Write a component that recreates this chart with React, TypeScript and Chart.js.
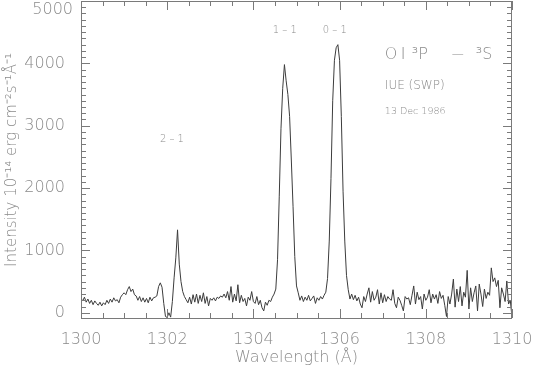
import React, { useEffect, useRef } from 'react';
import { Chart, registerables } from 'chart.js';

Chart.register(...registerables);

// Sampling grid of the spectrum (Å)
const wavelengthStart = 1300;
const wavelengthStep = 0.04;

// Intensity (10^-14 erg cm^-2 s^-1 Å^-1), one value per sample from 1300.00 to 1310.00 Å
const intensity1300: number[] = [230, 190, 250, 170, 220, 150, 200, 130, 190, 150, 120, 170, 110, 160, 130, 200, 150, 220, 170, 240, 190, 210, 160, 250, 290];
const intensity1301: number[] = [320, 290, 370, 420, 340, 380, 290, 270, 200, 260, 180, 240, 170, 230, 160, 250, 190, 240, 250, 270, 420, 480, 410, 150, -60];
const intensity1302: number[] = [-75, 0, -70, 180, 560, 880, 1330, 780, 500, 340, 260, 210, 160, 250, 140, 290, 170, 300, 150, 280, 180, 320, 150, 260, 110];
const intensity1303: number[] = [230, 200, 240, 190, 250, 230, 270, 250, 300, 240, 340, 200, 420, 170, 300, 190, 450, 160, 280, 180, 230, 110, 250, 200, 340];
const intensity1304: number[] = [180, 150, 260, 130, 200, 80, 30, 170, 120, 200, 180, 250, 300, 380, 850, 1870, 2950, 3600, 3980, 3720, 3500, 3150, 2450, 1700, 900];
const intensity1305: number[] = [430, 320, 200, 270, 180, 250, 200, 280, 190, 230, 270, 150, 240, 200, 260, 220, 280, 330, 550, 1150, 2150, 3400, 4050, 4250, 4300];
const intensity1306: number[] = [4050, 3150, 1950, 1150, 600, 370, 220, 300, 210, 280, 190, 250, 140, 80, 260, 180, 300, 400, 170, 340, 200, 250, 370, 140, 320];
const intensity1307: number[] = [160, 290, 180, 260, 220, 200, 370, 150, 80, 250, 200, 120, 30, 260, 220, 240, 130, 280, 430, 140, 330, 210, 260, 60, 300];
const intensity1308: number[] = [200, 250, 370, 160, 300, 220, 290, 150, 340, 230, 280, 120, -60, 260, 140, 300, 540, 90, 380, 180, 420, 110, 330, 250, 680];
const intensity1309: number[] = [60, 400, 180, 320, 430, 30, 460, 300, 100, 380, 230, 330, 280, 720, 500, 560, 420, 520, 80, 400, 300, 180, 510, 140, 200, -70];

const intensity: number[] = [
  ...intensity1300, ...intensity1301, ...intensity1302, ...intensity1303, ...intensity1304,
  ...intensity1305, ...intensity1306, ...intensity1307, ...intensity1308, ...intensity1309,
];
const wavelengths: number[] = intensity.map((_, i) => +(wavelengthStart + i * wavelengthStep).toFixed(2));

// Axis ticks
const xTickLabels: number[] = [1300, 1302, 1304, 1306, 1308, 1310];
const yTickLabels: number[] = [0, 1000, 2000, 3000, 4000, 5000];
const xRange: [number, number] = [1300, 1310];
const yRange: [number, number] = [-100, 5000];

// Text labels on the plot
const lineLabels: string[] = ['2 – 1', '1 – 1', '0 – 1'];
const lineLabelWavelengths: number[] = [1302.11, 1304.73, 1305.89];
const lineLabelIntensities: number[] = [2780, 4530, 4530];
const titleParts: string[] = ['O', 'I', '³P', '—', '³S'];
const instrumentText = 'IUE (SWP)';
const dateText = '13 Dec 1986';

const FONT = "'DejaVu Sans', sans-serif";
const TEXT_COLOR = '#8a8a8a';
const AXIS_COLOR = '#7a7a7a';
const LINE_COLOR = '#3c3c3c';

const framePlugin = {
  id: 'frameTicks',
  afterDraw(chart: any) {
    const { ctx, chartArea: a, scales } = chart;
    const xs = scales.x;
    const ys = scales.y;
    const L = Math.round(a.left);
    const R = Math.round(a.right) - 1;
    const T = Math.round(a.top);
    const B = Math.round(a.bottom) - 1;
    ctx.save();
    ctx.fillStyle = AXIS_COLOR;
    // frame
    ctx.fillRect(L, T, R - L + 1, 1);
    ctx.fillRect(L, B, R - L + 1, 1);
    ctx.fillRect(L, T, 1, B - T + 1);
    ctx.fillRect(R, T, 1, B - T + 1);
    // x ticks every 0.5 Å, long at labelled values
    for (let k = 0; k <= 20; k++) {
      const v = xRange[0] + k * 0.5;
      const px = Math.round(xs.getPixelForValue(v));
      const len = xTickLabels.includes(v) ? 9 : 5;
      ctx.fillRect(px, B - len, 1, len);
      ctx.fillRect(px, T, 1, len);
    }
    // y ticks every 100, long at labelled values
    for (let k = 0; k <= 50; k++) {
      const v = k * 100;
      const py = Math.round(ys.getPixelForValue(v));
      const len = yTickLabels.includes(v) ? 9 : 5;
      ctx.fillRect(L, py, len, 1);
      ctx.fillRect(R - len + 1, py, len, 1);
    }

    ctx.fillStyle = TEXT_COLOR;
    // top y label (kept inside the canvas)
    ctx.font = `200 16px ${FONT}`;
    ctx.textAlign = 'right';
    ctx.textBaseline = 'top';
    ctx.fillText(String(yTickLabels[yTickLabels.length - 1]), a.left - 8, a.top + 1);

    // transition labels
    ctx.font = `200 10px ${FONT}`;
    ctx.textAlign = 'center';
    ctx.textBaseline = 'middle';
    lineLabels.forEach((t, i) => {
      ctx.fillText(t, xs.getPixelForValue(lineLabelWavelengths[i]), ys.getPixelForValue(lineLabelIntensities[i]));
    });

    // title block
    ctx.textAlign = 'left';
    const tx = xs.getPixelForValue(1307.05);
    const titleY = ys.getPixelForValue(4130);
    const offsets = [0, 16, 27, 67, 91];
    titleParts.forEach((p, i) => {
      ctx.font = p === '—' ? `200 12px ${FONT}` : `200 16px ${FONT}`;
      ctx.fillText(p, tx + offsets[i], titleY);
    });
    ctx.font = `200 12px ${FONT}`;
    ctx.fillText(instrumentText, tx, ys.getPixelForValue(3645));
    ctx.font = `200 9.5px ${FONT}`;
    ctx.fillText(dateText, tx, ys.getPixelForValue(3230));
    ctx.restore();
  },
};

export default function App() {
  const canvasRef = useRef<HTMLCanvasElement | null>(null);

  useEffect(() => {
    if (!canvasRef.current) return;
    const chart = new Chart(canvasRef.current, {
      type: 'line',
      data: {
        datasets: [
          {
            data: wavelengths.map((x, i) => ({ x, y: intensity[i] })),
            borderColor: LINE_COLOR,
            borderWidth: 1,
            pointRadius: 0,
            tension: 0,
            fill: false,
          },
        ],
      },
      options: {
        animation: false,
        responsive: false,
        devicePixelRatio: 1,
        layout: { padding: { top: 1, right: 21, left: 0, bottom: 0 } },
        plugins: { legend: { display: false }, tooltip: { enabled: false } },
        scales: {
          x: {
            type: 'linear',
            min: xRange[0],
            max: xRange[1],
            afterBuildTicks: (s: any) => { s.ticks = xTickLabels.map((v) => ({ value: v })); },
            afterFit: (s: any) => { s.height = 52; s.paddingLeft = 0; s.paddingRight = 0; },
            grid: { display: false },
            border: { display: false },
            ticks: {
              color: TEXT_COLOR,
              font: { family: FONT, size: 16, weight: '200' as any },
              padding: 3,
              maxRotation: 0,
              autoSkip: false,
              callback: (v: any) => String(v),
            },
            title: {
              display: true,
              text: 'Wavelength (Å)',
              color: TEXT_COLOR,
              font: { family: FONT, size: 16, weight: '200' as any },
              padding: { top: 0, bottom: 4 },
            },
          },
          y: {
            type: 'linear',
            min: yRange[0],
            max: yRange[1],
            afterBuildTicks: (s: any) => { s.ticks = yTickLabels.map((v) => ({ value: v })); },
            afterFit: (s: any) => { s.width = 81; s.paddingTop = 0; s.paddingBottom = 0; },
            grid: { display: false },
            border: { display: false },
            ticks: {
              color: TEXT_COLOR,
              font: { family: FONT, size: 16, weight: '200' as any },
              padding: 8,
              autoSkip: false,
              callback: (v: any) => (v === yTickLabels[yTickLabels.length - 1] ? '' : String(v)),
            },
            title: {
              display: true,
              text: 'Intensity 10⁻¹⁴ erg cm⁻²s⁻¹Å⁻¹',
              color: TEXT_COLOR,
              font: { family: FONT, size: 15, weight: '200' as any },
              padding: { top: 3, bottom: 0 },
            },
          },
        },
      },
      plugins: [framePlugin],
    });
    return () => chart.destroy();
  }, []);

  return (
    <div style={{ position: 'fixed', left: 0, top: 0, width: 533, height: 371, background: '#fff' }}>
      <canvas ref={canvasRef} width={533} height={371} style={{ display: 'block' }} />
    </div>
  );
}
